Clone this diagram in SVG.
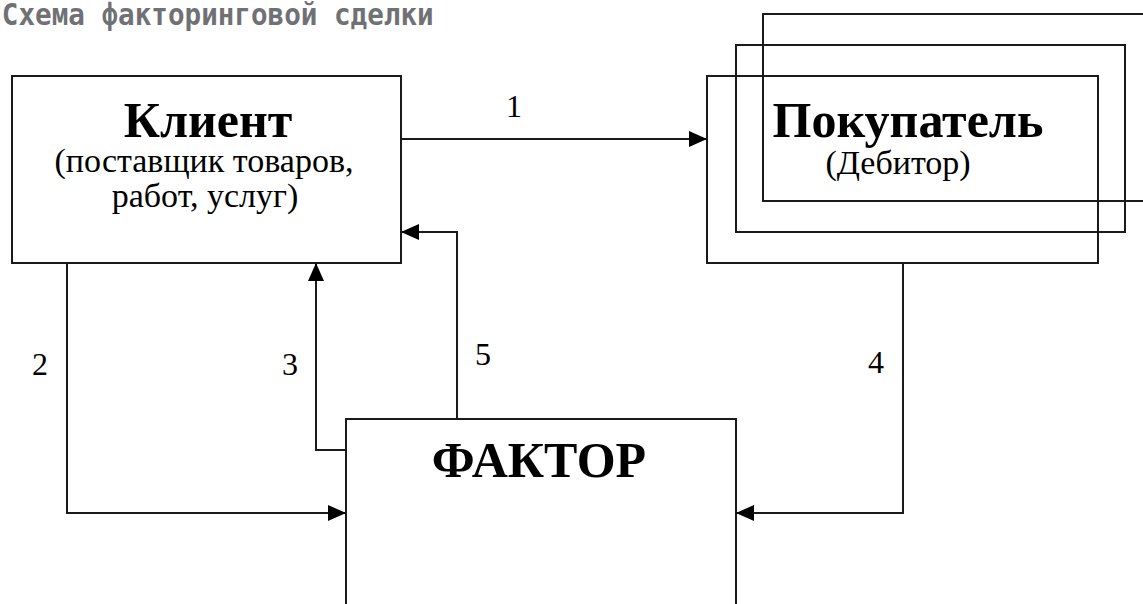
<svg xmlns="http://www.w3.org/2000/svg" width="1143" height="604" viewBox="0 0 1143 604">
<style>
.box{fill:none;stroke:#1a1a1a;stroke-width:2}
.con{fill:none;stroke:#1a1a1a;stroke-width:2}
.big{font-family:"Liberation Serif","Times New Roman",serif;font-weight:bold;font-size:50px;fill:#000;text-anchor:middle}
.sub{font-family:"Liberation Serif","Times New Roman",serif;font-size:34px;fill:#000;text-anchor:middle}
.num{font-family:"Liberation Serif","Times New Roman",serif;font-size:32px;fill:#000;text-anchor:middle}
.title{font-family:"DejaVu Sans Mono",monospace;font-weight:bold;font-size:30px;fill:#707174}
</style>
<defs>
<marker id="arr" viewBox="0 0 18 16" refX="18" refY="8" markerWidth="18" markerHeight="16" markerUnits="userSpaceOnUse" orient="auto">
<path d="M0,0 L18,8 L0,16 Z" fill="#000"/>
</marker>
</defs>
<rect width="1143" height="604" fill="#fff"/>
<text class="title" transform="scale(0.92,1)" x="2" y="25">Схема факторинговой сделки</text>
<g id="client">
<rect class="box" x="12" y="76" width="389" height="187"/>
<text class="big" x="208" y="137">Клиент</text>
<text class="sub" x="204" y="172">(поставщик товаров,</text>
<text class="sub" x="205" y="207">работ, услуг)</text>
</g>
<g id="buyer">
<rect class="box" x="763" y="14" width="420" height="187"/>
<rect class="box" x="736" y="45" width="389" height="187"/>
<rect class="box" x="707" y="76" width="391" height="187"/>
<text class="big" x="908" y="137">Покупатель</text>
<text class="sub" x="898" y="174">(Дебитор)</text>
</g>
<g id="factor">
<rect class="box" x="346" y="419" width="390" height="220"/>
<text class="big" x="539" y="477">ФАКТОР</text>
</g>
<g id="connectors">
<path class="con" d="M401,139 H707" marker-end="url(#arr)"/>
<path class="con" d="M67,263 V513 H346" marker-end="url(#arr)"/>
<path class="con" d="M346,450 H316 V263" marker-end="url(#arr)"/>
<path class="con" d="M457,419 V232 H401" marker-end="url(#arr)"/>
<path class="con" d="M903,263 V513 H736" marker-end="url(#arr)"/>
<text class="num" x="514" y="117">1</text>
<text class="num" x="40" y="375">2</text>
<text class="num" x="290" y="375">3</text>
<text class="num" x="876" y="373">4</text>
<text class="num" x="483" y="365">5</text>
</g>
</svg>
